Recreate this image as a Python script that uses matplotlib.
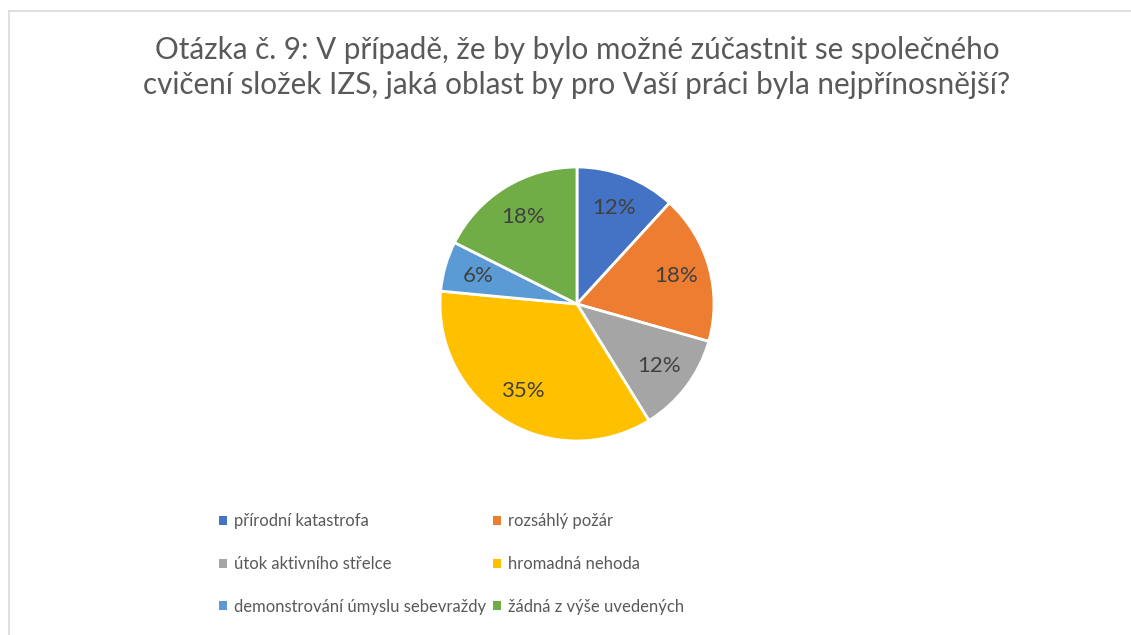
import matplotlib
matplotlib.use("Agg")
import matplotlib.pyplot as plt
from matplotlib.patches import Patch
from matplotlib.lines import Line2D

plt.rcParams['font.family'] = ['Lato', 'DejaVu Sans']

# answers (share of respondents, %)
categories = ["přírodní katastrofa", "rozsáhlý požár", "útok aktivního střelce",
              "hromadná nehoda", "demonstrování úmyslu sebevraždy", "žádná z výše uvedených"]
values = [11.8, 17.6, 11.8, 35.3, 5.9, 17.6]
colors = ["#4472C4", "#ED7D31", "#A5A5A5", "#FFC000", "#5B9BD5", "#70AD47"]
title = ("Otázka č. 9: V případě, že by bylo možné zúčastnit se společného\n"
         "cvičení složek IZS, jaká oblast by pro Vaší práci byla nejpřínosnější?")

W, H = 1131, 635
fig = plt.figure(figsize=(W / 100, H / 100), dpi=100)

# pie placed by pixel centre / radius
cx, cy, r = 577, 304, 137
ax = fig.add_axes([(cx - r) / W, (H - cy - r) / H, 2 * r / W, 2 * r / H])
wedges, texts, autotexts = ax.pie(values, colors=colors, startangle=90, counterclock=False,
                                  autopct="%.0f%%", pctdistance=0.75,
                                  wedgeprops=dict(edgecolor="white", linewidth=2),
                                  textprops=dict(color="#404040", fontsize=16))
ax.set_xlim(-1, 1)
ax.set_ylim(-1, 1)
ax.axis("off")

fig.text(cx / W, 1 - 36 / H, title, ha="center", va="top", fontsize=21.3,
         color="#595959", linespacing=1.3)

# chart frame (only left and top edges visible)
fig.add_artist(Line2D([9 / W, 9 / W], [-0.01, 1 - 11 / H], color="#D9D9D9", lw=1.2))
fig.add_artist(Line2D([9 / W, 1.01], [1 - 11 / H, 1 - 11 / H], color="#D9D9D9", lw=1.2))

# legend, filled row by row like Excel
handles = [Patch(facecolor=c, edgecolor="none") for c in colors]
order = [0, 2, 4, 1, 3, 5]
leg = fig.legend([handles[i] for i in order], [categories[i] for i in order],
                 ncol=2, loc="upper left", bbox_to_anchor=(211 / W, 1 - 505 / H),
                 frameon=False, fontsize=12, handlelength=0.45, handleheight=0.45,
                 handletextpad=0.45, columnspacing=0.4, labelspacing=1.6,
                 borderpad=0, labelcolor="#595959")

fig.savefig("out.png", dpi=100, facecolor="white")
